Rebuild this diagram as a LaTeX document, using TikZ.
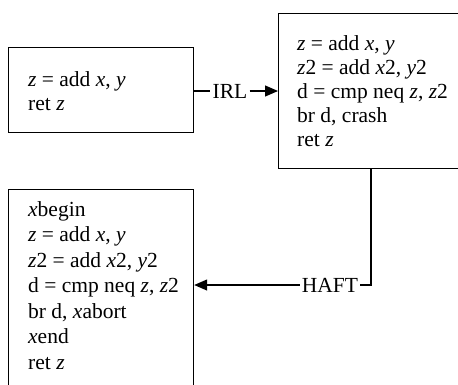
\documentclass[tikz,border=0pt]{standalone}
\usepackage{fontspec}
\setmainfont{Liberation Serif}
\usetikzlibrary{arrows.meta}
\begin{document}
\begin{tikzpicture}[x=1pt,y=-1pt,
  box/.style={draw=black,line width=1.2pt,rectangle,inner sep=0pt,anchor=north west},
  code/.style={inner sep=0pt,anchor=north west,align=left,font=\fontsize{21.5}{24}\selectfont},
  lbl/.style={inner xsep=2pt,inner ysep=0pt,font=\fontsize{21.5}{24}\selectfont},
  conn/.style={line width=1.2pt},
  arr/.style={line width=1.2pt,-{Triangle[length=13pt,width=11pt]}}]
\useasboundingbox (0,0) rectangle (458,384);
\node[box,minimum width=185pt,minimum height=85pt] (b1) at (8,47) {};
\node[box,minimum width=200pt,minimum height=155pt] (b2) at (278,13) {};
\node[box,minimum width=185pt,minimum height=220pt] (b3) at (8,189) {};
\node[code] (t1) at (28,71) {\textit{z} = add \textit{x}, \textit{y}\\ret \textit{z}};
\node[code] (t2) at (297,35) {\textit{z} = add \textit{x}, \textit{y}\\\textit{z}2 = add \textit{x}2, \textit{y}2\\d = cmp neq \textit{z}, \textit{z}2\\br d, crash\\ret \textit{z}};
\node[code,font=\fontsize{21.5}{25.5}\selectfont] (t3) at (28,201) {\textit{x}begin\\\textit{z} = add \textit{x}, \textit{y}\\\textit{z}2 = add \textit{x}2, \textit{y}2\\d = cmp neq \textit{z}, \textit{z}2\\br d, \textit{x}abort\\\textit{x}end\\ret \textit{z}};
\node[lbl] (irl) at (230,91) {IRL};
\node[lbl] (haft) at (330,285) {HAFT};
\coordinate (turn) at (371,285);
\draw[conn] (b1.east |- irl) -- (irl.west);
\draw[arr] (irl.east) -- (b2.west |- irl);
\draw[conn] (haft.east) -- (turn) -- (turn |- b2.south);
\draw[arr] (haft.west) -- (b3.east |- haft);
\end{tikzpicture}
\end{document}
